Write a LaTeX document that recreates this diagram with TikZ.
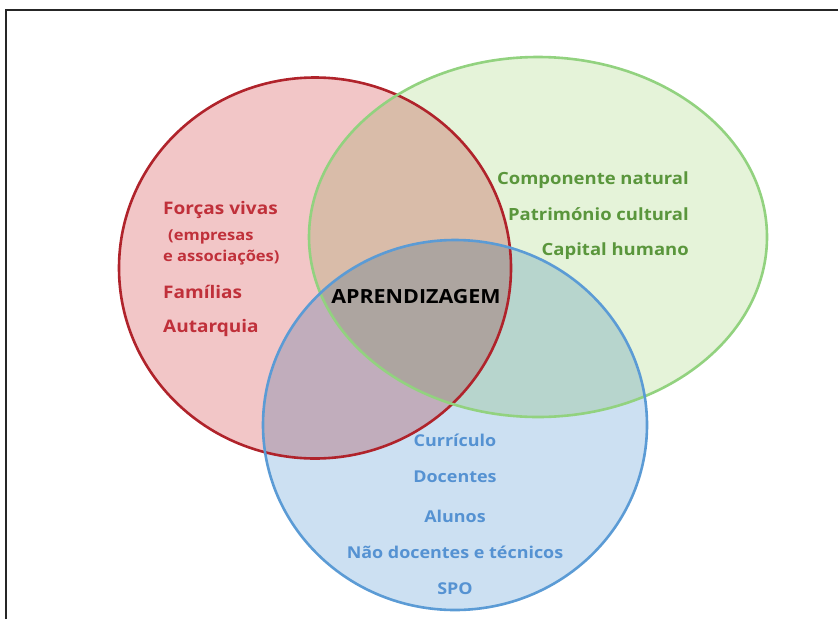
\documentclass[tikz,border=0pt]{standalone}
\usepackage{fontspec}
\setmainfont{Open Sans}[FakeStretch=1.1]
\usetikzlibrary{shapes.geometric}

\definecolor{redline}{HTML}{B0232B}
\definecolor{redfill}{HTML}{F2C6C7}
\definecolor{redtext}{HTML}{C0303A}
\definecolor{greenline}{HTML}{92D27F}
\definecolor{greenfill}{HTML}{E5F3D9}
\definecolor{greentext}{HTML}{5A963C}
\definecolor{blueline}{HTML}{5B9BD5}
\definecolor{bluefill}{HTML}{CCE0F2}
\definecolor{bluetext}{HTML}{5592D2}

\begin{document}
\begin{tikzpicture}
    [x=1pt, y=-1pt,
    setbox/.style={ellipse, line width=2.6pt, inner sep=0pt},
    redtxt/.style={text=redtext, font=\bfseries\fontsize{17.3}{17}\selectfont, anchor=west, inner sep=0pt},
    smalltxt/.style={redtxt, font=\bfseries\fontsize{15}{15}\selectfont},
    greentxt/.style={text=greentext, font=\bfseries\fontsize{16.8}{16}\selectfont, anchor=east, inner sep=0pt},
    bluetxt/.style={text=bluetext, font=\bfseries\fontsize{16.3}{16}\selectfont, inner sep=0pt}]

    \useasboundingbox (0,0) rectangle (838,619);
    \draw [black!85, line width=1.8pt] (6,619) -- (6,10) -- (838,10);

    % the three sets, fills first
    \begin{scope}[blend mode=multiply]
    \node[setbox, fill=redfill, minimum width=392pt, minimum height=381pt] (escola) at (315,268) {};
    \node[setbox, fill=greenfill, minimum width=458pt, minimum height=360pt] (territorio) at (538,237) {};
    \node[setbox, fill=bluefill, minimum width=384pt, minimum height=370pt] (ensino) at (455,425) {};
    \end{scope}
    \node[setbox, draw=redline, minimum width=392pt, minimum height=381pt] (escolaline) at (315,268) {};
    \node[setbox, draw=greenline, minimum width=458pt, minimum height=360pt] (territorioline) at (538,237) {};
    \node[setbox, draw=blueline, minimum width=384pt, minimum height=370pt] (ensinoline) at (455,425) {};

    \node[redtxt] (forcas) at (163,210) {Forças vivas};
    \node[smalltxt] (empresas) at (168,237) {(empresas};
    \node[smalltxt] (associacoes) at (163,258) {e associações)};
    \node[redtxt] (familias) at (163,292) {Famílias};
    \node[redtxt] (autarquia) at (163,328) {Autarquia};

    \node[greentxt] (componente) at (689,180) {Componente natural};
    \node[greentxt] (patrimonio) at (689,214) {Património cultural};
    \node[greentxt] (capital) at (689,251) {Capital humano};

    \node[bluetxt] (curriculo) at (455,440) {Currículo};
    \node[bluetxt] (docentes) at (455,477) {Docentes};
    \node[bluetxt] (alunos) at (455,516) {Alunos};
    \node[bluetxt] (naodocentes) at (455,552) {Não docentes e técnicos};
    \node[bluetxt] (spo) at (455,589) {SPO};

    \node[font=\bfseries\fontsize{19.5}{19}\selectfont, inner sep=0pt] (aprendizagem) at (416,297) {APRENDIZAGEM};
\end{tikzpicture}
\end{document}
